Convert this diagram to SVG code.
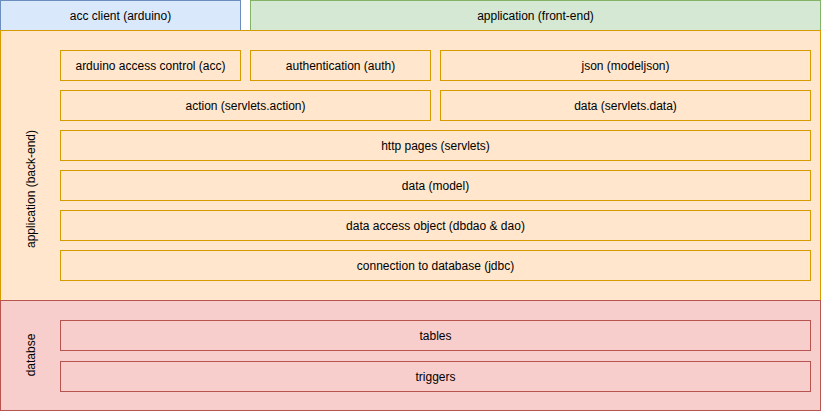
<svg xmlns="http://www.w3.org/2000/svg" width="821" height="411" viewBox="0 0 821 411">
  <style>
    text { font-family: "Liberation Sans", Arial, sans-serif; font-size: 12px; fill: #000; text-anchor: middle; dominant-baseline: central; }
    .blue { fill: #dae8fc; stroke: #6c8ebf; }
    .green { fill: #d5e8d4; stroke: #82b366; }
    .orange { fill: #ffe6cc; stroke: #d79b00; }
    .red { fill: #f8cecc; stroke: #b85450; }
    rect { stroke-width: 1; }
  </style>
  <rect width="821" height="411" fill="#ffffff"/>

  <!-- top layer -->
  <g id="acc-client">
    <rect class="blue" x="0.5" y="0.5" width="240" height="30"/>
    <text x="120.5" y="16">acc client (arduino)</text>
  </g>
  <g id="front-end">
    <rect class="green" x="250.5" y="0.5" width="570" height="30"/>
    <text x="535.5" y="16">application (front-end)</text>
  </g>

  <!-- back-end layer -->
  <g id="back-end">
    <rect class="orange" x="0.5" y="30.5" width="820" height="270"/>
    <text transform="translate(31 189) rotate(-90)">application (back-end)</text>
  </g>
  <g id="acc">
    <rect class="orange" x="60.5" y="50.5" width="180" height="30"/>
    <text x="150.5" y="66">arduino access control (acc)</text>
  </g>
  <g id="auth">
    <rect class="orange" x="250.5" y="50.5" width="180" height="30"/>
    <text x="340.5" y="66">authentication (auth)</text>
  </g>
  <g id="json">
    <rect class="orange" x="440.5" y="50.5" width="370" height="30"/>
    <text x="625.5" y="66">json (modeljson)</text>
  </g>
  <g id="action">
    <rect class="orange" x="60.5" y="90.5" width="370" height="30"/>
    <text x="245.5" y="106">action (servlets.action)</text>
  </g>
  <g id="servlets-data">
    <rect class="orange" x="440.5" y="90.5" width="370" height="30"/>
    <text x="625.5" y="106">data (servlets.data)</text>
  </g>
  <g id="http-pages">
    <rect class="orange" x="60.5" y="130.5" width="750" height="30"/>
    <text x="435.5" y="146">http pages (servlets)</text>
  </g>
  <g id="model">
    <rect class="orange" x="60.5" y="170.5" width="750" height="30"/>
    <text x="435.5" y="186">data (model)</text>
  </g>
  <g id="dao">
    <rect class="orange" x="60.5" y="210.5" width="750" height="30"/>
    <text x="435.5" y="226">data access object (dbdao &amp; dao)</text>
  </g>
  <g id="jdbc">
    <rect class="orange" x="60.5" y="250.5" width="750" height="30"/>
    <text x="435.5" y="266">connection to database (jdbc)</text>
  </g>

  <!-- database layer -->
  <g id="database">
    <rect class="red" x="0.5" y="300.5" width="820" height="110"/>
    <text transform="translate(31 355) rotate(-90)">databse</text>
  </g>
  <g id="tables">
    <rect class="red" x="60.5" y="320.5" width="750" height="30"/>
    <text x="435.5" y="336">tables</text>
  </g>
  <g id="triggers">
    <rect class="red" x="60.5" y="361.5" width="750" height="30"/>
    <text x="435.5" y="377">triggers</text>
  </g>

  <g id="connectors"/>
</svg>
